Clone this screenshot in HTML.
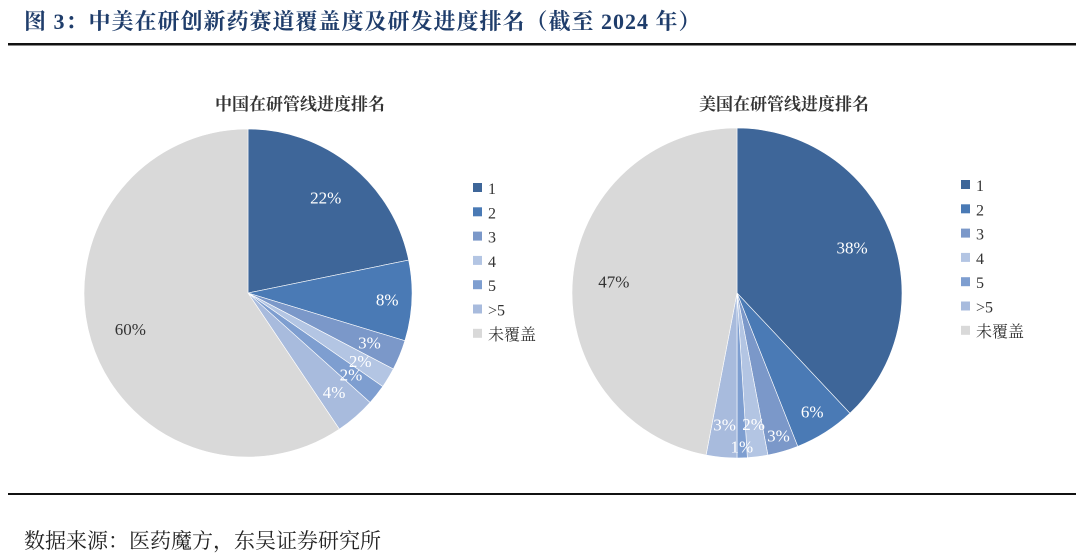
<!DOCTYPE html>
<html><head><meta charset="utf-8"><style>
body{margin:0;background:#fff;width:1080px;height:555px;overflow:hidden;font-family:"Liberation Serif","Noto Serif CJK SC",serif}
</style></head><body>
<svg width="1080" height="555" viewBox="0 0 1080 555" xmlns="http://www.w3.org/2000/svg" id="svg">
<text x="24" y="29" font-size="22" font-weight="bold" fill="#1f3d6b" font-family="Liberation Serif,Noto Serif CJK SC,serif" letter-spacing="1">图 3：中美在研创新药赛道覆盖度及研发进度排名（截至 2024 年）</text>
<rect x="8" y="43" width="1068" height="2.5" fill="#111"/>
<rect x="8" y="493" width="1068" height="2" fill="#111"/>
<text x="24" y="548" font-size="21" fill="#222" font-family="Liberation Serif,Noto Serif CJK SC,serif">数据来源：医药魔方，东吴证券研究所</text>
<text x="300" y="110" text-anchor="middle" font-size="17" font-weight="bold" fill="#333">中国在研管线进度排名</text>
<text x="784" y="110" text-anchor="middle" font-size="17" font-weight="bold" fill="#333">美国在研管线进度排名</text>
<g id="charts"></g>
</svg>
<script>
const categories = ["1","2","3","4","5",">5","未覆盖"];
const chinaValues = [22,8,3,2,2,4,60];
const usValues = [38,6,3,2,1,3,47];
const colors = ["#3e6699","#4a7ab5","#7b98c9","#b3c5e3","#7e9ed0","#a8bbdd","#d9d9d9"];
const NS="http://www.w3.org/2000/svg";
const root=document.getElementById('charts');
function mk(t,a){const e=document.createElementNS(NS,t);for(const k in a)e.setAttribute(k,a[k]);return e;}
function pie(prefix,values,cx,cy,r,lx,ly){
  const g=mk('g',{});
  
  
  root.appendChild(g);
  const lg=mk('g',{});
  
  
  const total=values.reduce((a,b)=>a+b,0);
  let acc=0;
  values.forEach((v,i)=>{
    const a0=acc/total*2*Math.PI; acc+=v; const a1=acc/total*2*Math.PI;
    const p=(a)=>[cx+r*Math.sin(a),cy-r*Math.cos(a)];
    const [x0,y0]=p(a0),[x1,y1]=p(a1);
    const large=(a1-a0)>Math.PI?1:0;
    const path=mk('path',{d:`M${cx},${cy}L${x0},${y0}A${r},${r} 0 ${large} 1 ${x1},${y1}Z`,fill:colors[i],stroke:'#fff','stroke-width':0.6});
    
    
    g.appendChild(path);
    const am=(a0+a1)/2;
    let f=v>15?0.75:(v>=5?0.85:0.8);
    if(v<=1) f=0.93;
    if(prefix==='us' && i===2) f=0.9;
    const lr=f*r;
    const t=mk('text',{x:cx+lr*Math.sin(am),y:cy-lr*Math.cos(am)+6,'text-anchor':'middle','font-size':17,fill:i==6?'#333':'#fff'});
    t.textContent=v+'%';
    
    
    lg.appendChild(t);
  });
  g.appendChild(lg);
  categories.forEach((c,i)=>{
    const y=ly+i*24.3;
    const s=mk('rect',{x:lx,y:y-5,width:9,height:9,fill:colors[i]});
    
    
    g.appendChild(s);
    const t=mk('text',{x:lx+15,y:y+6,'font-size':16,fill:'#333'});
    t.textContent=c;
    
    
    g.appendChild(t);
  });
}
pie('china',chinaValues,248,293,164,473,188);
pie('us',usValues,737,293,165,961,185);
</script>
</body></html>
